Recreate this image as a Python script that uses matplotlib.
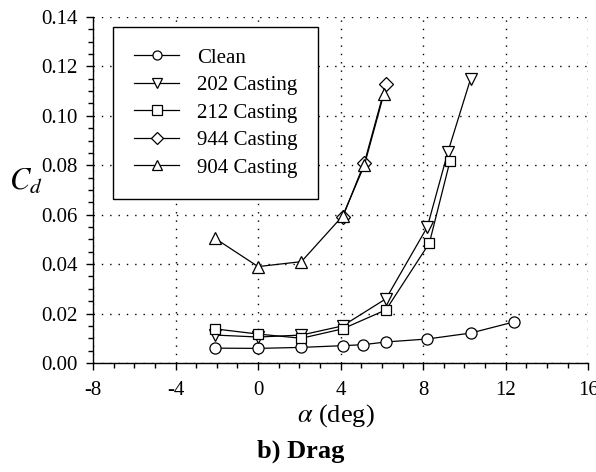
import matplotlib
matplotlib.use("Agg")
import matplotlib.pyplot as plt
from matplotlib.ticker import MultipleLocator, FormatStrFormatter

plt.rcParams['font.family'] = ['Liberation Serif', 'DejaVu Serif']
plt.rcParams['mathtext.fontset'] = 'stix'
plt.rcParams['axes.unicode_minus'] = False

# data
clean_a = [-2.1, 0.0, 2.1, 4.1, 5.1, 6.2, 8.2, 10.3, 12.4]
clean_cd = [0.0060, 0.0059, 0.0063, 0.0070, 0.0074, 0.0085, 0.0097, 0.0121, 0.0166]

c202_a = [-2.1, 0.0, 2.1, 4.1, 6.2, 8.2, 9.2, 10.3]
c202_cd = [0.0113, 0.0105, 0.0113, 0.0150, 0.0260, 0.0550, 0.0854, 0.1150]

c212_a = [-2.1, 0.0, 2.1, 4.1, 6.2, 8.3, 9.3]
c212_cd = [0.0138, 0.0117, 0.0100, 0.0138, 0.0215, 0.0485, 0.0817]

c944_a = [4.1, 5.15, 6.2]
c944_cd = [0.0590, 0.0810, 0.1130]

c904_a = [-2.1, 0.0, 2.1, 4.1, 5.15, 6.1]
c904_cd = [0.0505, 0.0390, 0.0410, 0.0595, 0.0800, 0.1090]

fig = plt.figure(figsize=(5.96, 4.72), dpi=100)
ax = fig.add_axes([0.156, 0.231, 0.831, 0.733])

kw = dict(color='k', lw=0.9, mfc='white', mec='k', mew=0.9, ms=8)
ax.plot(clean_a, clean_cd, marker='o', label='Clean', **kw)
ax.plot(c202_a, c202_cd, marker='v', label='202 Casting', **kw)
ax.plot(c212_a, c212_cd, marker='s', label='212 Casting', **dict(kw, ms=7))
ax.plot(c944_a, c944_cd, marker='D', label='944 Casting', **dict(kw, ms=7))
ax.plot(c904_a, c904_cd, marker='^', label='904 Casting', **kw)

ax.set_xlim(-8, 16)
ax.set_ylim(0, 0.14)
ax.xaxis.set_major_locator(MultipleLocator(4))
ax.xaxis.set_minor_locator(MultipleLocator(1))
ax.yaxis.set_major_locator(MultipleLocator(0.02))
ax.yaxis.set_minor_locator(MultipleLocator(0.005))
ax.yaxis.set_major_formatter(FormatStrFormatter('%.2f'))
ax.grid(True, which='major', color='k', ls=(0, (1, 5)), lw=1.0)

for s in ['top', 'right']:
    ax.spines[s].set_visible(False)
ax.spines['left'].set_linewidth(1.0)
ax.spines['bottom'].set_linewidth(1.0)
ax.tick_params(which='major', direction='out', length=5, width=1, labelsize=15)
ax.tick_params(axis='x', which='major', pad=8)
ax.tick_params(axis='y', which='major', pad=6)
ax.tick_params(which='minor', direction='out', length=3.5, width=1)

ax.set_xlabel(r'$\alpha$ (deg)', fontsize=19)
ax.xaxis.set_label_coords(0.491, -0.113)
ax.set_ylabel(r'$C_d$', fontsize=22, rotation=0, ha='center', va='center')
ax.yaxis.set_label_coords(-0.135, 0.523)

leg = ax.legend(loc='upper left', bbox_to_anchor=(0.04, 0.97), fontsize=15,
                frameon=True, fancybox=False, edgecolor='k', framealpha=1,
                handlelength=2.2, handletextpad=0.85, borderpad=1.0,
                labelspacing=0.38, borderaxespad=0)
leg.get_frame().set_linewidth(1.0)
for h in leg.legend_handles:
    h.set_markersize(6.5)

fig.text(0.505, 0.043, 'b) Drag', ha='center', va='center', fontsize=19, fontweight='bold')

fig.savefig('out.png', dpi=100)
